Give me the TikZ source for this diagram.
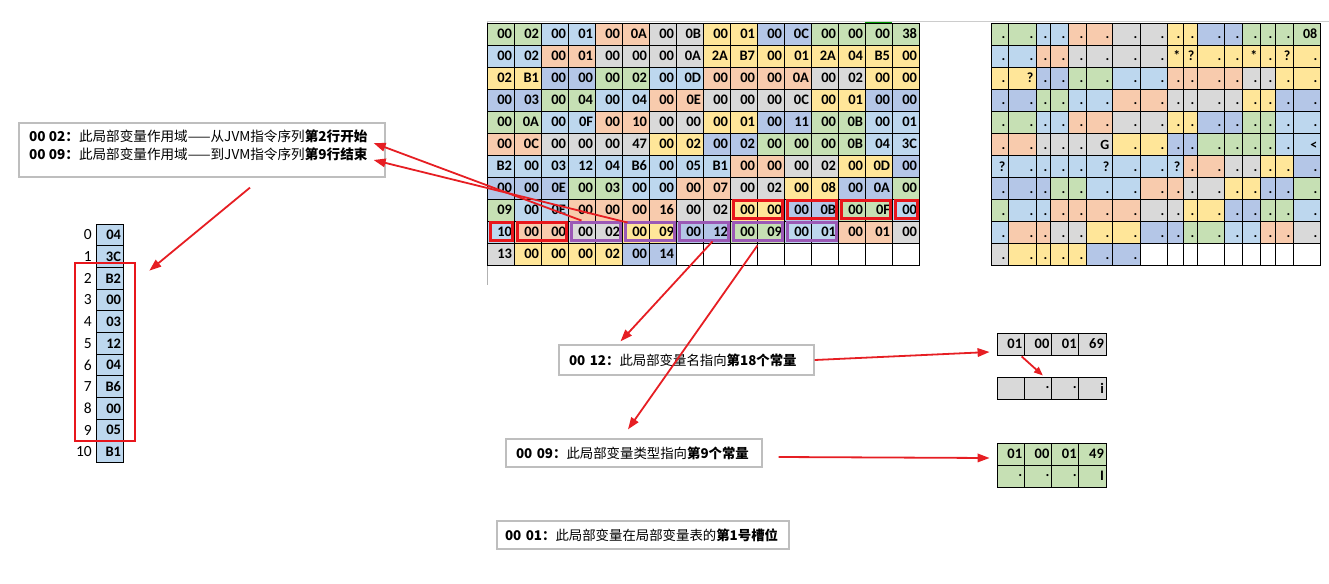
\documentclass[tikz,border=0pt]{standalone}
\usepackage{fontspec}
\setmainfont{Carlito}
\newfontfamily\cjk{Noto Sans CJK SC}
\usetikzlibrary{arrows.meta,positioning}

\definecolor{cgr}{HTML}{C6E0B4}
\definecolor{clb}{HTML}{BDD7EE}
\definecolor{csa}{HTML}{F8CBAD}
\definecolor{cgy}{HTML}{D9D9D9}
\definecolor{cye}{HTML}{FFE699}
\definecolor{cpb}{HTML}{B4C6E7}
\definecolor{boxred}{RGB}{232,22,28}
\definecolor{boxpurple}{RGB}{155,89,182}
\definecolor{boxgray}{RGB}{190,190,190}
\definecolor{arrowred}{RGB}{230,30,35}

\tikzset{
  hexcell/.style={draw, line width=0.9pt, minimum width=27pt, minimum height=22pt,
    inner sep=0pt, text width=23pt, align=right, font=\fontsize{14.5}{14.5}\selectfont\bfseries},
  chrcell/.style={draw, line width=0.9pt, minimum height=22pt, inner sep=0pt},
  chrtext/.style={anchor=base east, inner sep=0pt, font=\fontsize{14}{14}\selectfont\bfseries},
  tcell/.style={hexcell, minimum width=27.25pt, minimum height=22pt},
  redbox/.style={draw=boxred, line width=2.6pt},
  purplebox/.style={draw=boxpurple, line width=2.6pt},
  textbox/.style={draw=boxgray, line width=1.2pt, inner sep=0pt, font=\cjk\fontsize{13.4}{18}\selectfont},
  arr/.style={-{Triangle[length=12pt,width=8.5pt]}, line width=1.8pt, arrowred},
}

\begin{document}
\begin{tikzpicture}[x=1pt, y=-1pt]
  \useasboundingbox (0,0) rectangle (1329,583);
  % sheet edges
  \draw[gray!40, line width=1pt] (487,22) -- (1329,22);
  \draw[gray!60, line width=0.8pt] (487,22) -- (487,285);

  % hex dump and its character view
  \def\rgx{{991,1008,1036,1050,1068,1086,1112,1140,1167,1183,1197,1224,1242,1260,1275,1293,1320}}
  \foreach \row [count=\ri from 0] in {%
    {00/gr/.,02/gr/.,00/lb/.,01/lb/.,00/sa/.,0A/sa/.,00/gy/.,0B/gy/.,00/ye/.,01/ye/.,00/pb/.,0C/pb/.,00/gr/.,00/gr/.,00/gr/.,38/gr/08},
    {00/lb/.,02/lb/.,00/sa/.,01/sa/.,00/gy/.,00/gy/.,00/gy/.,0A/gy/.,2A/ye/*,B7/ye/?,00/ye/.,01/ye/.,2A/ye/*,04/ye/.,B5/ye/?,00/ye/.},
    {02/ye/.,B1/ye/?,00/pb/.,00/pb/.,00/gr/.,02/gr/.,00/lb/.,0D/lb/.,00/sa/.,00/sa/.,00/sa/.,0A/sa/.,00/gy/.,02/gy/.,00/ye/.,00/ye/.},
    {00/pb/.,03/pb/.,00/gr/.,04/gr/.,00/lb/.,04/lb/.,00/sa/.,0E/sa/.,00/gy/.,00/gy/.,00/gy/.,0C/gy/.,00/ye/.,01/ye/.,00/pb/.,00/pb/.},
    {00/gr/.,0A/gr/.,00/lb/.,0F/lb/.,00/sa/.,10/sa/.,00/gy/.,00/gy/.,00/ye/.,01/ye/.,00/pb/.,11/pb/.,00/gr/.,0B/gr/.,00/lb/.,01/lb/.},
    {00/sa/.,0C/sa/.,00/gy/.,00/gy/.,00/gy/.,47/gy/G,00/ye/.,02/ye/.,00/pb/.,02/pb/.,00/gr/.,00/gr/.,00/gr/.,0B/gr/.,04/lb/.,3C/lb/<},
    {B2/lb/?,00/lb/.,03/lb/.,12/lb/.,04/lb/.,B6/lb/?,00/lb/.,05/lb/.,B1/lb/?,00/sa/.,00/sa/.,00/gy/.,02/gy/.,00/ye/.,0D/ye/.,00/pb/.},
    {00/pb/.,00/pb/.,0E/pb/.,00/gr/.,03/gr/.,00/lb/.,00/lb/.,00/sa/.,07/sa/.,00/gy/.,02/gy/.,00/ye/.,08/ye/.,00/pb/.,0A/pb/.,00/gr/.},
    {09/gr/.,00/lb/.,0E/lb/.,00/sa/.,00/sa/.,00/sa/.,16/sa/.,00/gy/.,02/gy/.,00/ye/.,00/ye/.,00/pb/.,0B/pb/.,00/gr/.,0F/gr/.,00/lb/.},
    {10/lb/.,00/sa/.,00/sa/.,00/gy/.,02/gy/.,00/ye/.,09/ye/.,00/pb/.,12/pb/.,00/gr/.,09/gr/.,00/lb/.,01/lb/.,00/sa/.,01/sa/.,00/gy/.},
    {13/gy/.,00/ye/.,00/ye/.,00/ye/.,02/ye/.,00/pb/.,14/pb/.}}{%
    \foreach \v/\col/\ch [count=\ci from 0] in \row {
      \node (h-\ri-\ci) [hexcell, fill=c\col] at (500.5+27*\ci, 34+22*\ri) {\v};
      \pgfmathsetmacro\xa{\rgx[\ci]}
      \pgfmathsetmacro\xb{\rgx[\ci+1]}
      \pgfmathsetmacro\cw{\xb-\xa}
      \node (c-\ri-\ci) [chrcell, fill=c\col, minimum width=\cw pt] at ({(\xa+\xb)/2}, 34+22*\ri) {};
      \node (t-\ri-\ci) [chrtext] at ([shift={(-3,5)}]c-\ri-\ci.east) {\ch};
    }
  }
  % empty tail of the last row
  \foreach \ci in {7,...,15} {
    \node (h-10-\ci) [hexcell] at (500.5+27*\ci, 254) {};
    \pgfmathsetmacro\xa{\rgx[\ci]}
    \pgfmathsetmacro\xb{\rgx[\ci+1]}
    \pgfmathsetmacro\cw{\xb-\xa}
    \node (c-10-\ci) [chrcell, minimum width=\cw pt] at ({(\xa+\xb)/2}, 254) {};
  }
  \draw[green!60!black, line width=1.5pt] (h-0-14.north west) -- (h-0-14.north east);

  % marked fields
  \foreach \ri/\ca/\cb in {8/9/10, 8/11/12, 8/13/14, 8/15/15, 9/0/0, 9/1/2}
    \draw[redbox] ([shift={(4,2)}]h-\ri-\ca.north west) rectangle ([shift={(-2,-3)}]h-\ri-\cb.south east);
  \foreach \ri/\ca/\cb in {9/3/4, 9/5/6, 9/7/8, 9/9/10, 9/11/12}
    \draw[purplebox] ([shift={(4,2)}]h-\ri-\ca.north west) rectangle ([shift={(-2,-3)}]h-\ri-\cb.south east);

  % code array
  \foreach \v [count=\i from 0] in {04,3C,B2,00,03,12,04,B6,00,05,B1} {
    \node (l-\i) [hexcell, fill=clb, minimum height=21.7pt] at (109.5, 234.85+21.7*\i) {\v};
    \node (n-\i) [anchor=east, inner sep=0pt, font=\fontsize{15.5}{15.5}\selectfont] at (92, 234.85+21.7*\i) {\i};
  }
  \node (lred) [redbox, minimum width=60pt, minimum height=178pt, inner sep=0pt] at (105,352) {};

  % notes
  \node (tb1) [textbox, minimum width=366pt, minimum height=54pt] at (202,150) {};
  \node (tb1a) [anchor=base west, inner sep=0pt, font=\cjk\fontsize{13.6}{18}\selectfont] at (29,141)
    {{\bfseries 00 02：}此局部变量作用域——从JVM指令序列{\bfseries 第2行开始}};
  \node (tb1b) [anchor=base west, inner sep=0pt, font=\cjk\fontsize{13.6}{18}\selectfont] at (29,159)
    {{\bfseries 00 09：}此局部变量作用域——到JVM指令序列{\bfseries 第9行结束}};
  \node (tb2) [textbox, minimum width=255pt, minimum height=30pt, text width=235pt, align=left] at (686.5,360)
    {{\bfseries 00 12：}此局部变量名指向{\bfseries 第18个常量}};
  \node (tb3) [textbox, minimum width=256pt, minimum height=28pt, text width=236pt, align=left] at (634,453)
    {{\bfseries 00 09：}此局部变量类型指向{\bfseries 第9个常量}};
  \node (tb4) [textbox, minimum width=292pt, minimum height=28pt, text width=276pt, align=left] at (643,535)
    {{\bfseries 00 01：}此局部变量在局部变量表的{\bfseries 第1号槽位}};

  % constant pool entries
  \foreach \v/\w [count=\k] in {01/~,00/.,01/.,69/i} {
    \node (g1-\k) [tcell, fill=cgy] at (983.4+27.25*\k, 344) {\v};
    \node (g2-\k) [tcell, fill=cgy] at (983.4+27.25*\k, 388) {\w};
  }
  \foreach \v/\w [count=\k] in {01/.,00/.,01/.,49/I} {
    \node (n1-\k) [tcell, fill=cgr] at (983.4+27.25*\k, 454) {\v};
    \node (n2-\k) [tcell, fill=cgr] at (983.4+27.25*\k, 476) {\w};
  }

  % arrows
  \draw[arr] (h-9-3.north) -- ([shift={(-12,-7)}]tb1.east);
  \draw[arr] ([shift={(6,2)}]h-9-5.north west) -- ([shift={(-12,10)}]tb1.east);
  \draw[arr] ([shift={(48,10)}]tb1.south) -- ([shift={(13,9)}]lred.north east);
  \draw[arr] ([shift={(-4,-2)}]h-9-8.south) -- ([shift={(-66,-3)}]tb2.north);
  \draw[arr] ([yshift=-2]h-9-9.south east) -- ([shift={(-6,-9)}]tb3.north);
  \draw[arr] (tb2.east) -- ([shift={(-7,8)}]g1-1.west);
  \draw[arr] ([shift={(16,4)}]tb3.east) -- ([shift={(-7,4)}]n1-1.west);
  \draw[arr, -{Triangle[length=9pt,width=7pt]}] ([shift={(11,1)}]g1-1.south) -- ([shift={(5,-1)}]g2-2.north);
\end{tikzpicture}
\end{document}
